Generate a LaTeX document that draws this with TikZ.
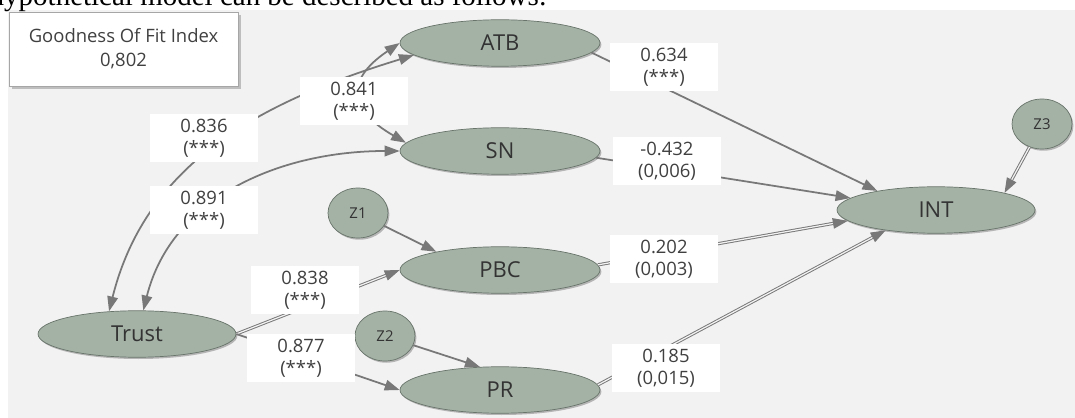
\documentclass[tikz,border=0pt]{standalone}
\usepackage{fontspec}
\setmainfont{Liberation Serif}
\setsansfont{Open Sans}
\usepackage{tikz}
\usetikzlibrary{shapes.geometric,arrows.meta,shadows}
\definecolor{latentfill}{RGB}{164,177,165}
\definecolor{latentdraw}{RGB}{104,116,106}
\definecolor{linegray}{RGB}{120,120,120}
\definecolor{canvasgray}{RGB}{242,242,242}
\newcommand{\tipdim}{length=8.5pt,width=6pt}

\begin{document}
\begin{tikzpicture}[x=.02cm,y=-.02cm,
    latent/.style={draw=latentdraw, fill=latentfill, ellipse, inner sep=0pt, minimum width=4cm, minimum height=.93cm, text=black!80, font=\sffamily\fontsize{12.5}{14}\selectfont, drop shadow={shadow xshift=.8pt, shadow yshift=-1pt, fill=black, opacity=.25}},
    resid/.style={latent, minimum width=1.2cm, minimum height=1cm, font=\sffamily\fontsize{8.5}{10}\selectfont},
    coef/.style={fill=white, inner sep=0pt, minimum width=2.16cm, minimum height=.96cm, align=center, text=black!75, font=\sffamily\fontsize{10.5}{12.5}\selectfont},
    regress/.style={draw=linegray, line width=1pt, -{Triangle[\tipdim]}},
    twoway/.style={regress, {Triangle[\tipdim]}-{Triangle[\tipdim]}},
    paired/.style={double=canvasgray, double distance=.7pt, line width=.55pt}]

    \useasboundingbox (0,0) rectangle (1075,418);
    \fill[canvasgray] (8,10) rectangle (1075,418);
    \node (intro) at (553,6) [anchor=base east, font=\fontsize{16.5}{18}\selectfont] {hypothetical model can be described as follows:};

    \node (gof) at (123.5,49) [draw=black!35, fill=white, minimum width=4.58cm, minimum height=1.48cm, align=center, text=black!75, font=\sffamily\fontsize{10.5}{13.6}\selectfont, drop shadow={shadow xshift=1.5pt, shadow yshift=-1.5pt, fill=black!45}] {Goodness Of Fit Index\\0,802};

    % constructs
    \node (ATB) at (500,43) [latent] {ATB};
    \node (SN) at (500,151) [latent] {SN};
    \node (PBC) at (500,270) [latent] {PBC};
    \node (PR) at (500,390) [latent] {PR};
    \node (Trust) at (137,334) [latent, minimum width=3.96cm] {Trust};
    \node (INT) at (936,210) [latent, minimum width=3.96cm] {INT};
    \node (Z1) at (358,213) [resid] {Z1};
    \node (Z2) at (385,336) [resid] {Z2};
    \node (Z3) at (1042,124) [resid] {Z3};

    % correlations
    \draw[twoway] (Trust.141) to[out=76, in=197] (ATB.188);
    \draw[twoway] (Trust.75) to[out=76, in=180] (SN.west);
    \draw[twoway] (ATB.west) to[out=214, in=150, looseness=1.7] (SN.175);

    % paths
    \draw[regress] (ATB.-6) -- (INT.162);
    \draw[regress] (SN.-4) -- (INT.172);
    \draw[regress, paired] (PBC.3) -- (INT.187);
    \draw[regress, paired] (PR.3) -- (INT.202);
    \draw[regress, paired] (Z3) -- (INT.14);
    \draw[regress] (Z1) -- (PBC.164);
    \draw[regress] (Z2) -- (PR.131);
    \draw[regress, paired] (Trust.east) -- (PBC.west);
    \draw[regress] (Trust.east) -- (PR.west);

    % estimates
    \node (c841) at (354,101) [coef] {0.841\\(***)};
    \node (c836) at (204,138) [coef] {0.836\\(***)};
    \node (c891) at (204,210) [coef] {0.891\\(***)};
    \node (c838) at (305,290) [coef] {0.838\\(***)};
    \node (c877) at (301,358) [coef] {0.877\\(***)};
    \node (c634) at (664,67) [coef] {0.634\\(***)};
    \node (c432) at (667,161) [coef] {-0.432\\(0,006)};
    \node (c202) at (664,259) [coef] {0.202\\(0,003)};
    \node (c185) at (666,368) [coef] {0.185\\(0,015)};

\end{tikzpicture}
\end{document}
